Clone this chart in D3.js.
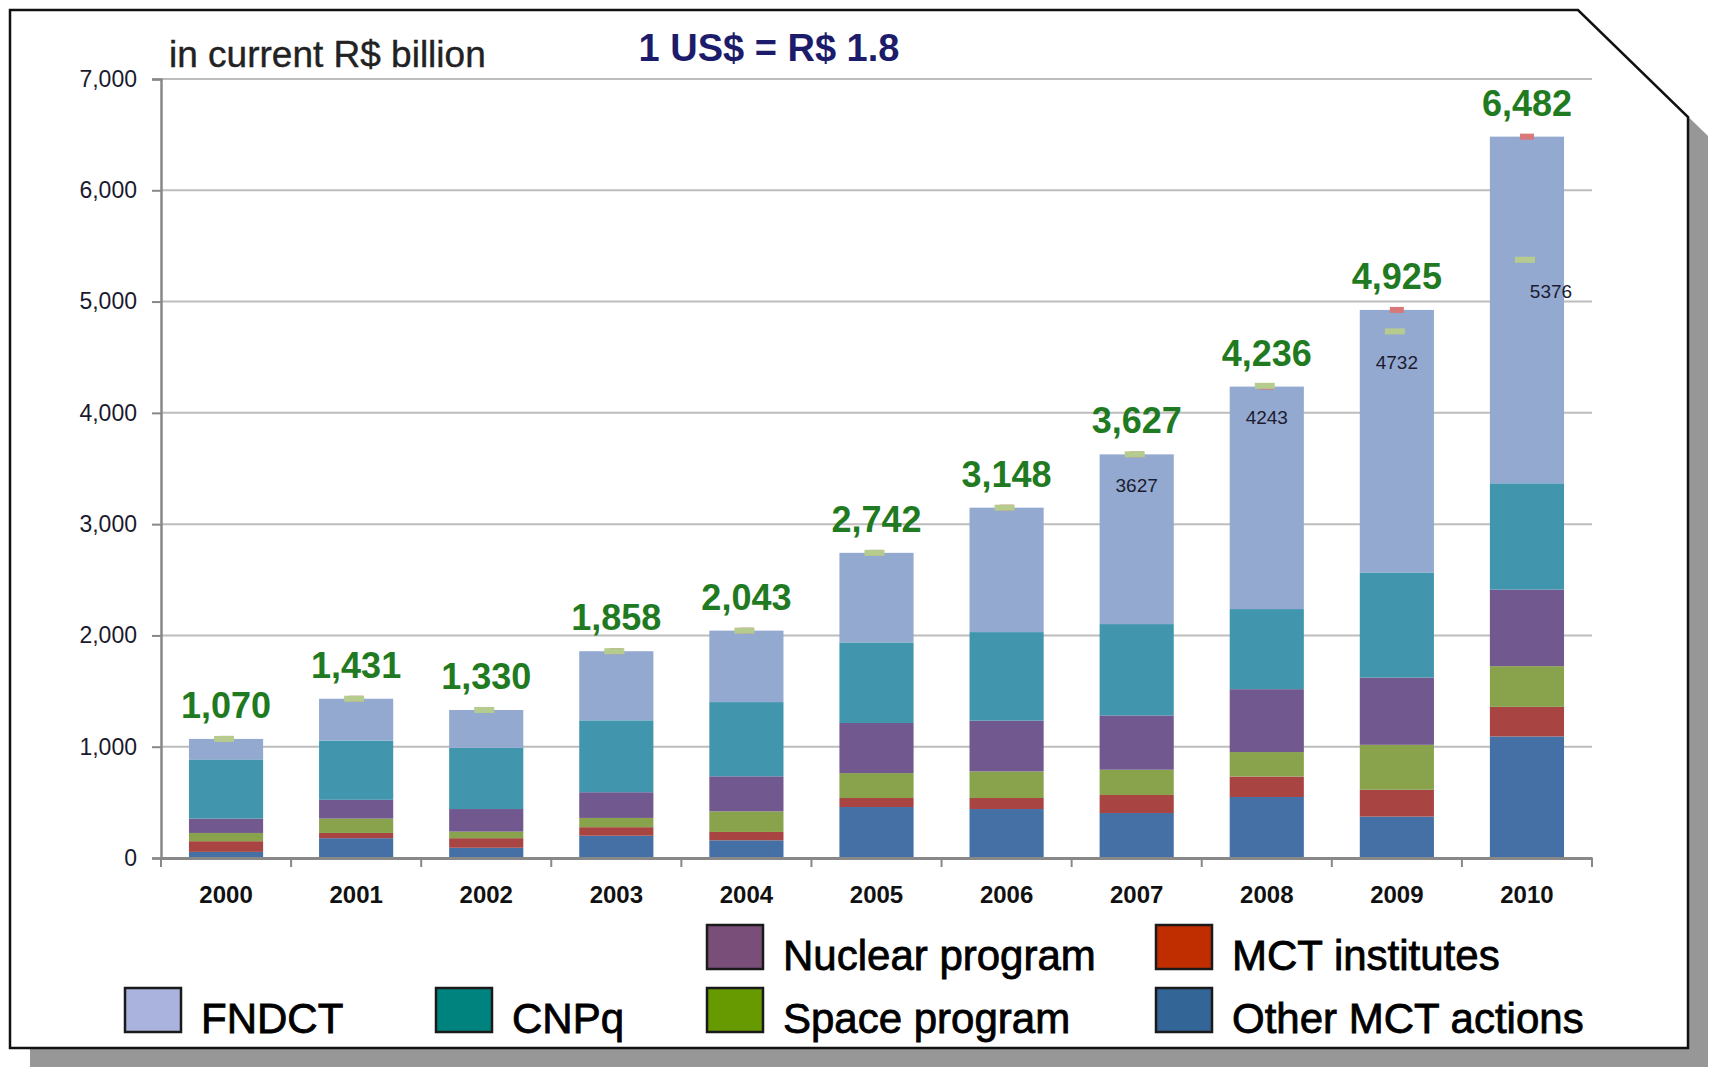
<!DOCTYPE html>
<html>
<head>
<meta charset="utf-8">
<script src="https://d3js.org/d3.v7.min.js"></script>
<style>
  body { margin: 0; background: #fff; }
  text { font-family: "Liberation Sans", Arial, sans-serif; }
  .axis path, .axis line { stroke: #888; }
</style>
<title>MCT budget</title>
</head>
<body>
<div id="chart"></div>
<script>

// values in current R$ billion
var years = ["2000","2001","2002","2003","2004","2005","2006","2007","2008","2009","2010"];
var otherMCT   = [55, 178, 92, 200, 159, 458, 440, 404, 548, 372, 1092];
var mctInst    = [96, 47, 86, 77, 75, 81, 99, 162, 184, 241, 266];
var spaceProg  = [74, 129, 59, 83, 185, 224, 239, 227, 220, 404, 366];
var nuclear    = [129, 169, 203, 231, 315, 450, 456, 488, 565, 605, 688];
var cnpq       = [532, 532, 551, 646, 667, 724, 796, 821, 720, 944, 955];
var fndct      = [184, 376, 339, 621, 642, 805, 1118, 1525, 1999, 2359, 3115];
var totals     = [1070, 1431, 1330, 1858, 2043, 2742, 3148, 3627, 4236, 4925, 6482];
var greenMarks = [1070, 1431, 1330, 1858, 2043, 2742, 3148, 3627, 4243, 4732, 5376];
var markLabels = ["", "", "", "", "", "", "", "3627", "4243", "4732", "5376"];
var yTicks = [0, 1000, 2000, 3000, 4000, 5000, 6000, 7000];

var keys = ["Other MCT actions", "MCT institutes", "Space program", "Nuclear program", "CNPq", "FNDCT"];
var seriesValues = [otherMCT, mctInst, spaceProg, nuclear, cnpq, fndct];
var barColor = {
  "Other MCT actions": "#4470a5",
  "MCT institutes": "#a84543",
  "Space program": "#88a34c",
  "Nuclear program": "#71588f",
  "CNPq": "#4196ae",
  "FNDCT": "#93a9d0"
};
var swatchColor = {
  "Other MCT actions": "#336597",
  "MCT institutes": "#c02e00",
  "Space program": "#669a00",
  "Nuclear program": "#794f79",
  "CNPq": "#00827f",
  "FNDCT": "#a9b3dd"
};

var data = years.map(function(y, i) {
  var d = {year: y};
  keys.forEach(function(k, j) { d[k] = seriesValues[j][i]; });
  return d;
});

var width = 1710, height = 1069;
var plot = {left: 161, right: 1592, top: 79, bottom: 858};

var svg = d3.select("#chart").append("svg")
    .attr("width", width)
    .attr("height", height);

// frame with cut corner and drop shadow
var frame = [[10, 10], [1578, 10], [1688, 117], [1688, 1048], [10, 1048]];
svg.append("polygon")
    .attr("points", frame.map(function(p) { return (p[0] + 20) + "," + (p[1] + 19); }).join(" "))
    .attr("fill", "#979797");
svg.append("polygon")
    .attr("points", frame.map(function(p) { return p.join(","); }).join(" "))
    .attr("fill", "#fff")
    .attr("stroke", "#111")
    .attr("stroke-width", 2.5);

var x = d3.scaleBand()
    .domain(years)
    .range([plot.left, plot.right])
    .paddingInner(0.43)
    .paddingOuter(0.215);

var y = d3.scaleLinear()
    .domain([0, 7000])
    .range([plot.bottom, plot.top]);

// gridlines
svg.append("g")
  .selectAll("line")
  .data(yTicks.slice(1))
  .enter().append("line")
    .attr("x1", plot.left)
    .attr("x2", plot.right)
    .attr("y1", function(d) { return y(d); })
    .attr("y2", function(d) { return y(d); })
    .attr("stroke", "#bdbdbd")
    .attr("stroke-width", 2);

// stacked bars
var stack = d3.stack().keys(keys);
var layers = stack(data);

svg.append("g")
  .selectAll("g")
  .data(layers)
  .enter().append("g")
    .attr("fill", function(d) { return barColor[d.key]; })
  .selectAll("rect")
  .data(function(d) { return d; })
  .enter().append("rect")
    .attr("x", function(d) { return x(d.data.year); })
    .attr("y", function(d) { return y(d[1]); })
    .attr("width", x.bandwidth())
    .attr("height", function(d) { return y(d[0]) - y(d[1]); });

// y axis
var yAxis = svg.append("g")
    .attr("class", "axis")
    .attr("transform", "translate(" + plot.left + ",0)")
    .call(d3.axisLeft(y).tickValues(yTicks).tickFormat(d3.format(",")).tickSize(9).tickPadding(15));
yAxis.select(".domain").attr("stroke-width", 2.5);
yAxis.selectAll(".tick line").attr("stroke-width", 2);
yAxis.selectAll("text")
    .attr("font-size", 23)
    .attr("fill", "#1a1a2e");

// x axis: labels from axis, ticks between categories
var xAxis = svg.append("g")
    .attr("class", "axis")
    .attr("transform", "translate(0," + plot.bottom + ")")
    .call(d3.axisBottom(x).tickSize(0).tickPadding(28));
xAxis.select(".domain").attr("stroke-width", 3);
xAxis.selectAll("text")
    .attr("font-size", 24)
    .attr("font-weight", "bold")
    .attr("fill", "#111");

var gap = (x.step() - x.bandwidth()) / 2;
var bounds = years.map(function(d) { return x(d) - gap; }).concat([x(years[years.length - 1]) + x.bandwidth() + gap]);
xAxis.selectAll(".btick")
  .data(bounds)
  .enter().append("line")
    .attr("class", "btick")
    .attr("x1", function(d) { return d; })
    .attr("x2", function(d) { return d; })
    .attr("y1", 0)
    .attr("y2", 9)
    .attr("stroke", "#888")
    .attr("stroke-width", 2);

// small dash markers
var cx = function(i) { return x(years[i]) + x.bandwidth() / 2; };
svg.append("g")
  .selectAll("rect")
  .data(totals)
  .enter().append("rect")
    .attr("x", function(d, i) { return cx(i) - 7; })
    .attr("y", function(d) { return y(d) - 3; })
    .attr("width", 14)
    .attr("height", 6)
    .attr("fill", "#d9787a");
svg.append("g")
  .selectAll("rect")
  .data(greenMarks)
  .enter().append("rect")
    .attr("x", function(d, i) { return cx(i) - 12; })
    .attr("y", function(d) { return y(d) - 3; })
    .attr("width", 20)
    .attr("height", 6)
    .attr("fill", "#b5cc8e");

svg.append("g")
  .selectAll("text")
  .data(greenMarks)
  .enter().append("text")
    .attr("x", function(d, i) { return cx(i) + (i === years.length - 1 ? 24 : 0); })
    .attr("y", function(d) { return y(d) + 38; })
    .attr("text-anchor", "middle")
    .attr("font-size", 19)
    .attr("fill", "#1c1c30")
    .text(function(d, i) { return markLabels[i]; });

// totals
svg.append("g")
  .selectAll("text")
  .data(totals)
  .enter().append("text")
    .attr("x", function(d, i) { return cx(i); })
    .attr("y", function(d) { return y(d) - 21; })
    .attr("text-anchor", "middle")
    .attr("font-size", 36)
    .attr("font-weight", "bold")
    .attr("fill", "#1f7a22")
    .text(function(d) { return d3.format(",")(d); });

// titles
svg.append("text")
    .attr("x", 169)
    .attr("y", 67)
    .attr("font-size", 37)
    .attr("fill", "#222")
    .attr("stroke", "#222")
    .attr("stroke-width", 0.4)
    .text("in current R$ billion");

svg.append("text")
    .attr("x", 769)
    .attr("y", 61)
    .attr("text-anchor", "middle")
    .attr("font-size", 38)
    .attr("font-weight", "bold")
    .attr("fill", "#1c1c6b")
    .text("1 US$ = R$ 1.8");

// legend
var legendItems = [
  {key: "Nuclear program", x: 707, y: 925},
  {key: "MCT institutes", x: 1156, y: 925},
  {key: "FNDCT", x: 125, y: 988},
  {key: "CNPq", x: 436, y: 988},
  {key: "Space program", x: 707, y: 988},
  {key: "Other MCT actions", x: 1156, y: 988}
];

var legend = svg.append("g")
  .selectAll("g")
  .data(legendItems)
  .enter().append("g")
    .attr("transform", function(d) { return "translate(" + d.x + "," + d.y + ")"; });

legend.append("rect")
    .attr("width", 56)
    .attr("height", 44)
    .attr("fill", function(d) { return swatchColor[d.key]; })
    .attr("stroke", "#1a1a1a")
    .attr("stroke-width", 2.5);

legend.append("text")
    .attr("x", 76)
    .attr("y", 45)
    .attr("font-size", 42)
    .attr("fill", "#000")
    .attr("stroke", "#000")
    .attr("stroke-width", 0.8)
    .text(function(d) { return d.key; });

</script>
</body>
</html>
